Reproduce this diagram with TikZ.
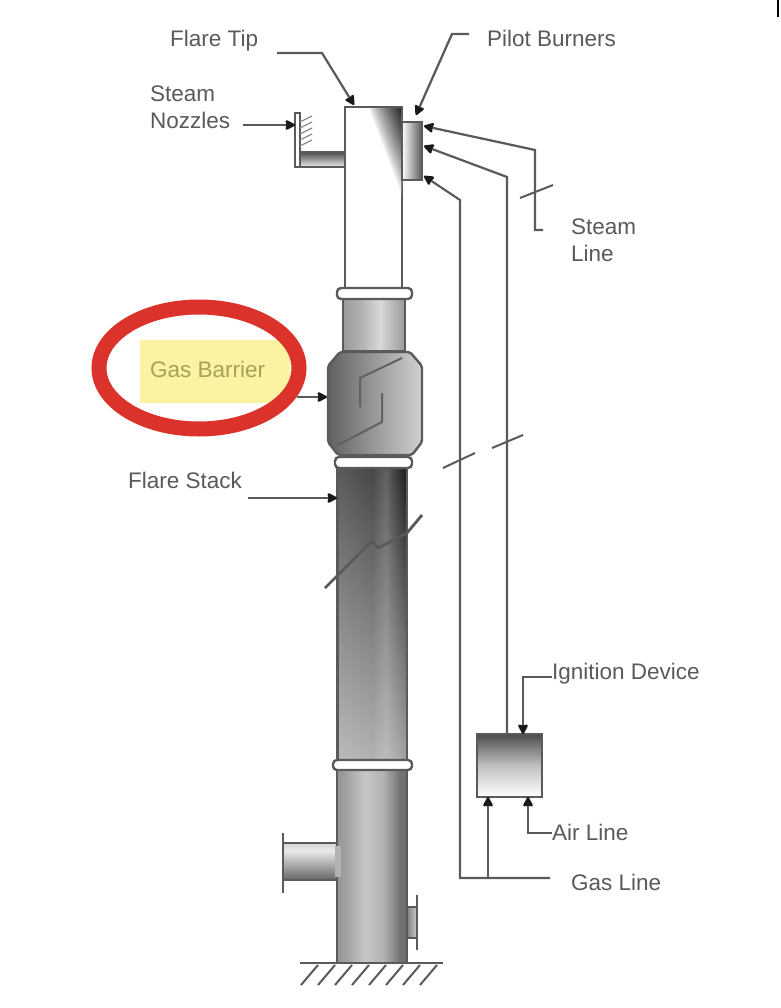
\documentclass[tikz,border=0pt]{standalone}
\usepackage{fontspec}
\setmainfont{Liberation Sans}
\usetikzlibrary{arrows.meta,fadings,shadings}
\definecolor{ln}{HTML}{5A5A5A}
\definecolor{lbl}{HTML}{5A5A5A}
\definecolor{ringred}{HTML}{DC322C}
\definecolor{hilite}{HTML}{FBF2A2}
\definecolor{hitext}{HTML}{A3A35A}
\pgfdeclarehorizontalshading{stackdark}{100bp}{color(0bp)=(black!62);color(25bp)=(black!64);color(50bp)=(black!72);color(60bp)=(black!62);color(65bp)=(black!72);color(75bp)=(black!90);color(100bp)=(black!92)}
\pgfdeclarehorizontalshading{stacklow}{100bp}{color(0bp)=(black!62);color(30bp)=(black!38);color(45bp)=(black!22);color(58bp)=(black!30);color(70bp)=(black!55);color(100bp)=(black!68)}
\pgfdeclarehorizontalshading{neck}{100bp}{color(0bp)=(black!55);color(40bp)=(black!30);color(55bp)=(black!15);color(75bp)=(black!40);color(100bp)=(black!72)}
\pgfdeclareverticalshading{inletsh}{100bp}{color(0bp)=(black!88);color(25bp)=(black!60);color(65bp)=(black!8);color(100bp)=(black!40)}
\tikzset{
  x=1pt,y=-1pt,
  pipe/.style={draw=ln,line width=2.4pt,inner sep=0pt,outer sep=0pt},
  wire/.style={draw=ln,line width=2.2pt},
  arr/.style={wire,-{Stealth[length=11pt,width=11pt,inset=1pt,round,fill=black!90,color=black!90]}},
  tick/.style={draw=ln,line width=2pt},
  lab/.style={text=lbl,font=\fontsize{22.5}{27}\selectfont,inner sep=0pt,align=left},
}
\begin{document}
\begin{tikzpicture}
\useasboundingbox (0,0) rectangle (780,1008);
\fill[white] (0,0) rectangle (780,1008);
\draw[black,line width=1.5pt] (778,0) -- (778,17);

% steam nozzle arm
\node[pipe,minimum width=50pt,minimum height=15pt,top color=black!70,bottom color=black!8] (arm) at (320,159.5) {};
\node[pipe,minimum width=5pt,minimum height=54pt,fill=white] (nozzle) at (297.5,140) {};
\foreach \yy in {116,122,...,140} \draw[black!45,line width=1.2pt] (300,\yy+6) -- (312,\yy);

% flare tip with a soft dark wedge in its upper right corner
\node[pipe,minimum width=57pt,minimum height=181pt,fill=white] (tip) at (373.5,197.5) {};
\foreach \t in {1.00,0.96,...,0.02} {
  \pgfmathsetmacro{\shadeval}{85*(1-\t)^0.8}
  \fill[black!\shadeval] (401-33*\t,108.5) -- (401,108.5) -- (401,108.5+87*\t) -- cycle;
}
% pilot burner
\node[pipe,minimum width=20pt,minimum height=58pt,left color=white,right color=black!65] (burner) at (412,151) {};

% lower stack
\node[pipe,shading=inletsh,minimum width=54pt,minimum height=37pt] (inlet) at (310,861.5) {};
\node[pipe,minimum width=10pt,minimum height=31pt,left color=black!50,right color=black!20] (drain) at (412,922.5) {};
\draw[ln,line width=2.4pt] (283,833) -- (283,893);
\draw[ln,line width=2.4pt] (417,895) -- (417,950);
\node[pipe,shading=stacklow,minimum width=70pt,minimum height=193pt] (lower) at (372,866.5) {};
\fill[black!30] (335,846) rectangle (341,877);
% upper stack
\node[pipe,shading=stackdark,minimum width=70pt,minimum height=292pt] (stack) at (372,614) {};
\fill[white,fill opacity=.58,path fading=north] (338.5,469.5) rectangle (405.5,758.5);
% neck
\node[pipe,shading=neck,minimum width=62pt,minimum height=53pt] (neck) at (374,325) {};
% gas barrier
\shadedraw[draw=ln,line width=2.4pt,left color=black!62,right color=black!18,rounded corners=2pt]
  (340,352) -- (410,352) -- (422,366) -- (422,442) -- (412,455) -- (338,455) -- (328,442) -- (328,366) -- cycle;
\draw[black!62,line width=2pt] (338,445) -- (382,422) -- (382,393);
\draw[black!62,line width=2pt] (360,407) -- (360,378) -- (402,358);
% rings
\node[pipe,rounded corners=4pt,fill=white,minimum width=75pt,minimum height=11pt] (ring1) at (374.5,293.5) {};
\node[pipe,rounded corners=4pt,fill=white,minimum width=77pt,minimum height=11pt] (ring2) at (373.5,462.5) {};
\node[pipe,rounded corners=4pt,fill=white,minimum width=79pt,minimum height=10pt] (ring3) at (372.5,765) {};
% stack break
\draw[black!65,line width=2.8pt,line join=round] (325,588) -- (372,541) -- (378,548) -- (407,533) -- (422,515);

% ground
\coordinate (g1) at (300,963);
\coordinate (g2) at (443,963);
\draw[ln,line width=2pt] (g1) -- (g2);
\foreach \xx in {318,335,...,444} \draw[ln,line width=2pt] (\xx,965) -- (\xx-17,985);

% ignition box
\node[pipe,minimum width=65pt,minimum height=63pt,top color=black!70,bottom color=white,middle color=black!25] (igbox) at (509.5,765.5) {};

% labels
\node[lab,anchor=west] (lFlare) at (170,41) {Flare Tip};
\node[lab,anchor=west] (lPilot) at (487,38) {Pilot Burners};
\node[lab,anchor=west] (lNozz) at (150,107) {Steam\\Nozzles};
\node[lab,anchor=west] (lSteam) at (571,240) {Steam\\Line};
\node[lab,anchor=west] (lStack) at (128,480) {Flare Stack};
\node[lab,anchor=west] (lIgn) at (552,674) {Ignition Device};
\node[lab,anchor=west] (lAir) at (552,832) {Air Line};
\node[lab,anchor=west] (lGas) at (571,882) {Gas Line};

% connector ends
\coordinate (c1) at (277,53);
\coordinate (c2) at (322,53);
\coordinate (ct) at (354,105);
\coordinate (p1) at (469,34);
\coordinate (p2) at (452,34);
\coordinate (pt) at (416,115);
\coordinate (n1) at (243,125);
\coordinate (s1) at (543,230);
\coordinate (s2) at (535,230);
\coordinate (s3) at (535,150);
\coordinate (b1) at (424,126);
\coordinate (m1) at (507,177);
\coordinate (b2) at (424,146);
\coordinate (g3) at (460,200);
\coordinate (b3) at (424,176);
\coordinate (g4) at (460,878);
\coordinate (g5) at (550,878);
\coordinate (g6) at (488,878);
\coordinate (a1) at (552,833);
\coordinate (a2) at (528,833);
\coordinate (i1) at (552,677);
\coordinate (i2) at (523,677);
\coordinate (fs) at (248,498);
\coordinate (gb) at (297,397);
\coordinate (gbt) at (327,397);

\draw[arr] (c1) -- (c2) -- (ct);
\draw[arr] (p1) -- (p2) -- (pt);
\draw[arr] (n1) -- (n1 -| nozzle.west);
\draw[arr] (s1) -- (s2) -- (s3) -- (b1);
\draw[arr] (igbox.north -| m1) -- (m1) -- (b2);
\draw[arr] (g5) -- (g4) -- (g3) -- (b3);
\draw[arr] (g6) -- (g6 |- igbox.south);
\draw[arr] (a1) -- (a2) -- (a2 |- igbox.south);
\draw[arr] (i1) -- (i2) -- (i2 |- igbox.north);
\draw[arr] (fs) -- (fs -| stack.west);
\draw[arr] (gb) -- (gbt);

% break ticks
\coordinate (t1a) at (520,198); \coordinate (t1b) at (553,185);
\coordinate (t2a) at (443,468); \coordinate (t2b) at (475,453);
\coordinate (t3a) at (492,448); \coordinate (t3b) at (523,435);
\draw[tick] (t1a) -- (t1b);
\draw[tick] (t2a) -- (t2b);
\draw[tick] (t3a) -- (t3b);

% highlighted label
\node[fill=hilite,minimum width=150pt,minimum height=63pt,inner sep=0pt] (hl) at (215,371.5) {};
\node[lab,text=hitext,anchor=west] (lGB) at (150,369) {Gas Barrier};
\draw[ringred,line width=15pt] (199,368) ellipse [x radius=100,y radius=61];
\end{tikzpicture}
\end{document}
